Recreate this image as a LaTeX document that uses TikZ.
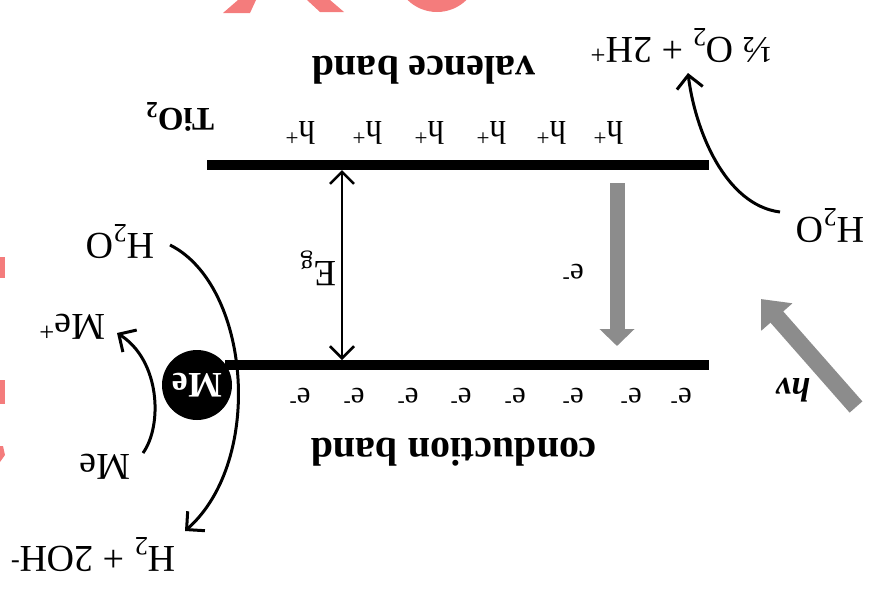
\documentclass[tikz,border=0pt]{standalone}
\usepackage{fontspec}
\setmainfont{Liberation Serif}
\usetikzlibrary{arrows.meta}
\definecolor{wm}{HTML}{F47C7C}
\definecolor{arrowgray}{HTML}{8C8C8C}
\tikzset{
  lbl/.style={rotate=180, inner sep=0pt, font=\fontsize{38}{40}\selectfont},
  bandlbl/.style={rotate=180, inner sep=0pt, font=\fontsize{40}{42}\selectfont\bfseries},
  carrier/.style={rotate=180, inner sep=0pt, font=\fontsize{31}{33}\selectfont},
  hole/.style={rotate=180, inner sep=0pt, font=\fontsize{33}{35}\selectfont},
  bandline/.style={line width=10pt},
  react/.style={line width=3pt, -{Straight Barb[length=13pt,width=26pt]}},
  gap/.style={line width=2.5pt, {Straight Barb[length=12pt,width=24pt]}-{Straight Barb[length=12pt,width=24pt]}},
  grayarrow/.style={arrowgray},
  mark/.style={fill=wm, draw=none}
}
\begin{document}
\begin{tikzpicture}[x=1pt,y=-1pt]
\useasboundingbox (0,0) rectangle (896,603);
% watermark fragments
\fill[wm] (238,0) -- (256,0) -- (250,13) -- (223,13) -- cycle;
\fill[wm] (307,0) -- (330,0) -- (344,12) -- (320,12) -- cycle;
\fill[wm] (437,-30) circle[radius=42];
\fill[wm] (0,257) rectangle (5,278);
\fill[wm] (0,380) rectangle (5,404);
\fill[wm] (0,446) -- (3,446) -- (5,455) -- (0,462) -- cycle;

% bands
\coordinate (vbL) at (207,165);
\coordinate (vbR) at (709,165);
\coordinate (cbL) at (225,365);
\coordinate (cbR) at (709,365);
\draw[bandline] (vbL) -- (vbR);
\draw[bandline] (cbL) -- (cbR);

% Me particle
\node[circle, fill=black, minimum size=70pt, inner sep=0pt, rotate=180,
      text=white, font=\fontsize{36}{38}\selectfont\bfseries] (me) at (197,385) {Me};

% band gap
\coordinate (egT) at (342,170);
\coordinate (egB) at (342,360);
\draw[gap] (egT) -- (egB);
\node[lbl, font=\fontsize{37}{39}\selectfont] (eg) at (318,268) {E\textsubscript{g}};

% electron transfer arrow
\coordinate (dnT) at (617,183);
\coordinate (dnB) at (617,346);
\draw[grayarrow, line width=15pt, -{Triangle[length=17pt,width=34pt]}] (dnT) -- (dnB);
\node[carrier] (etr) at (573,272) {e\textsuperscript{-}};

% light
\coordinate (hvA) at (856,407);
\coordinate (hvB) at (761,299);
\draw[grayarrow, line width=17pt, -{Triangle[length=24pt,width=40pt]}] (hvA) -- (hvB);
\node[lbl, font=\fontsize{34}{36}\selectfont\bfseries\itshape] (hv) at (793,390) {hν};

% holes
\foreach \x [count=\i] in {300,367,429,491,551,608}
  \node[hole] (h\i) at (\x,133) {h\textsuperscript{+}};
% electrons
\foreach \x [count=\i] in {300,354,408,461,515,573,631,681}
  \node[carrier] (e\i) at (\x,396) {e\textsuperscript{-}};

% band labels
\node[bandlbl] (vb) at (424,70) {valence band};
\node[bandlbl] (cb) at (454,452) {conduction band};
\node[lbl, font=\fontsize{33}{35}\selectfont\bfseries] (tio) at (180,117) {TiO\textsubscript{2}};

% oxidation at valence band
\node[lbl] (h2or) at (830,226) {H\textsubscript{2}O};
\node[lbl] (o2) at (681,46) {½ O\textsubscript{2} + 2H\textsuperscript{+}};
\coordinate (oxS) at (780,212);
\coordinate (oxE) at (688,73);
\draw[react] (oxS) .. controls (725,205) and (695,130) .. (oxE);

% reduction at Me
\node[lbl] (h2ol) at (120,242) {H\textsubscript{2}O};
\node[lbl] (h2) at (93,555) {H\textsubscript{2} + 2OH\textsuperscript{-}};
\coordinate (rdS) at (170,245);
\coordinate (rdE) at (185,531);
\draw[react] (rdS) .. controls (250,285) and (265,460) .. (rdE);

% metal dissolution
\node[lbl] (mel) at (105,467) {Me};
\node[lbl] (mep) at (72,327) {Me\textsuperscript{+}};
\coordinate (mdS) at (143,453);
\coordinate (mdE) at (117,333);
\draw[react] (mdS) .. controls (163,425) and (160,360) .. (mdE);
\end{tikzpicture}
\end{document}
